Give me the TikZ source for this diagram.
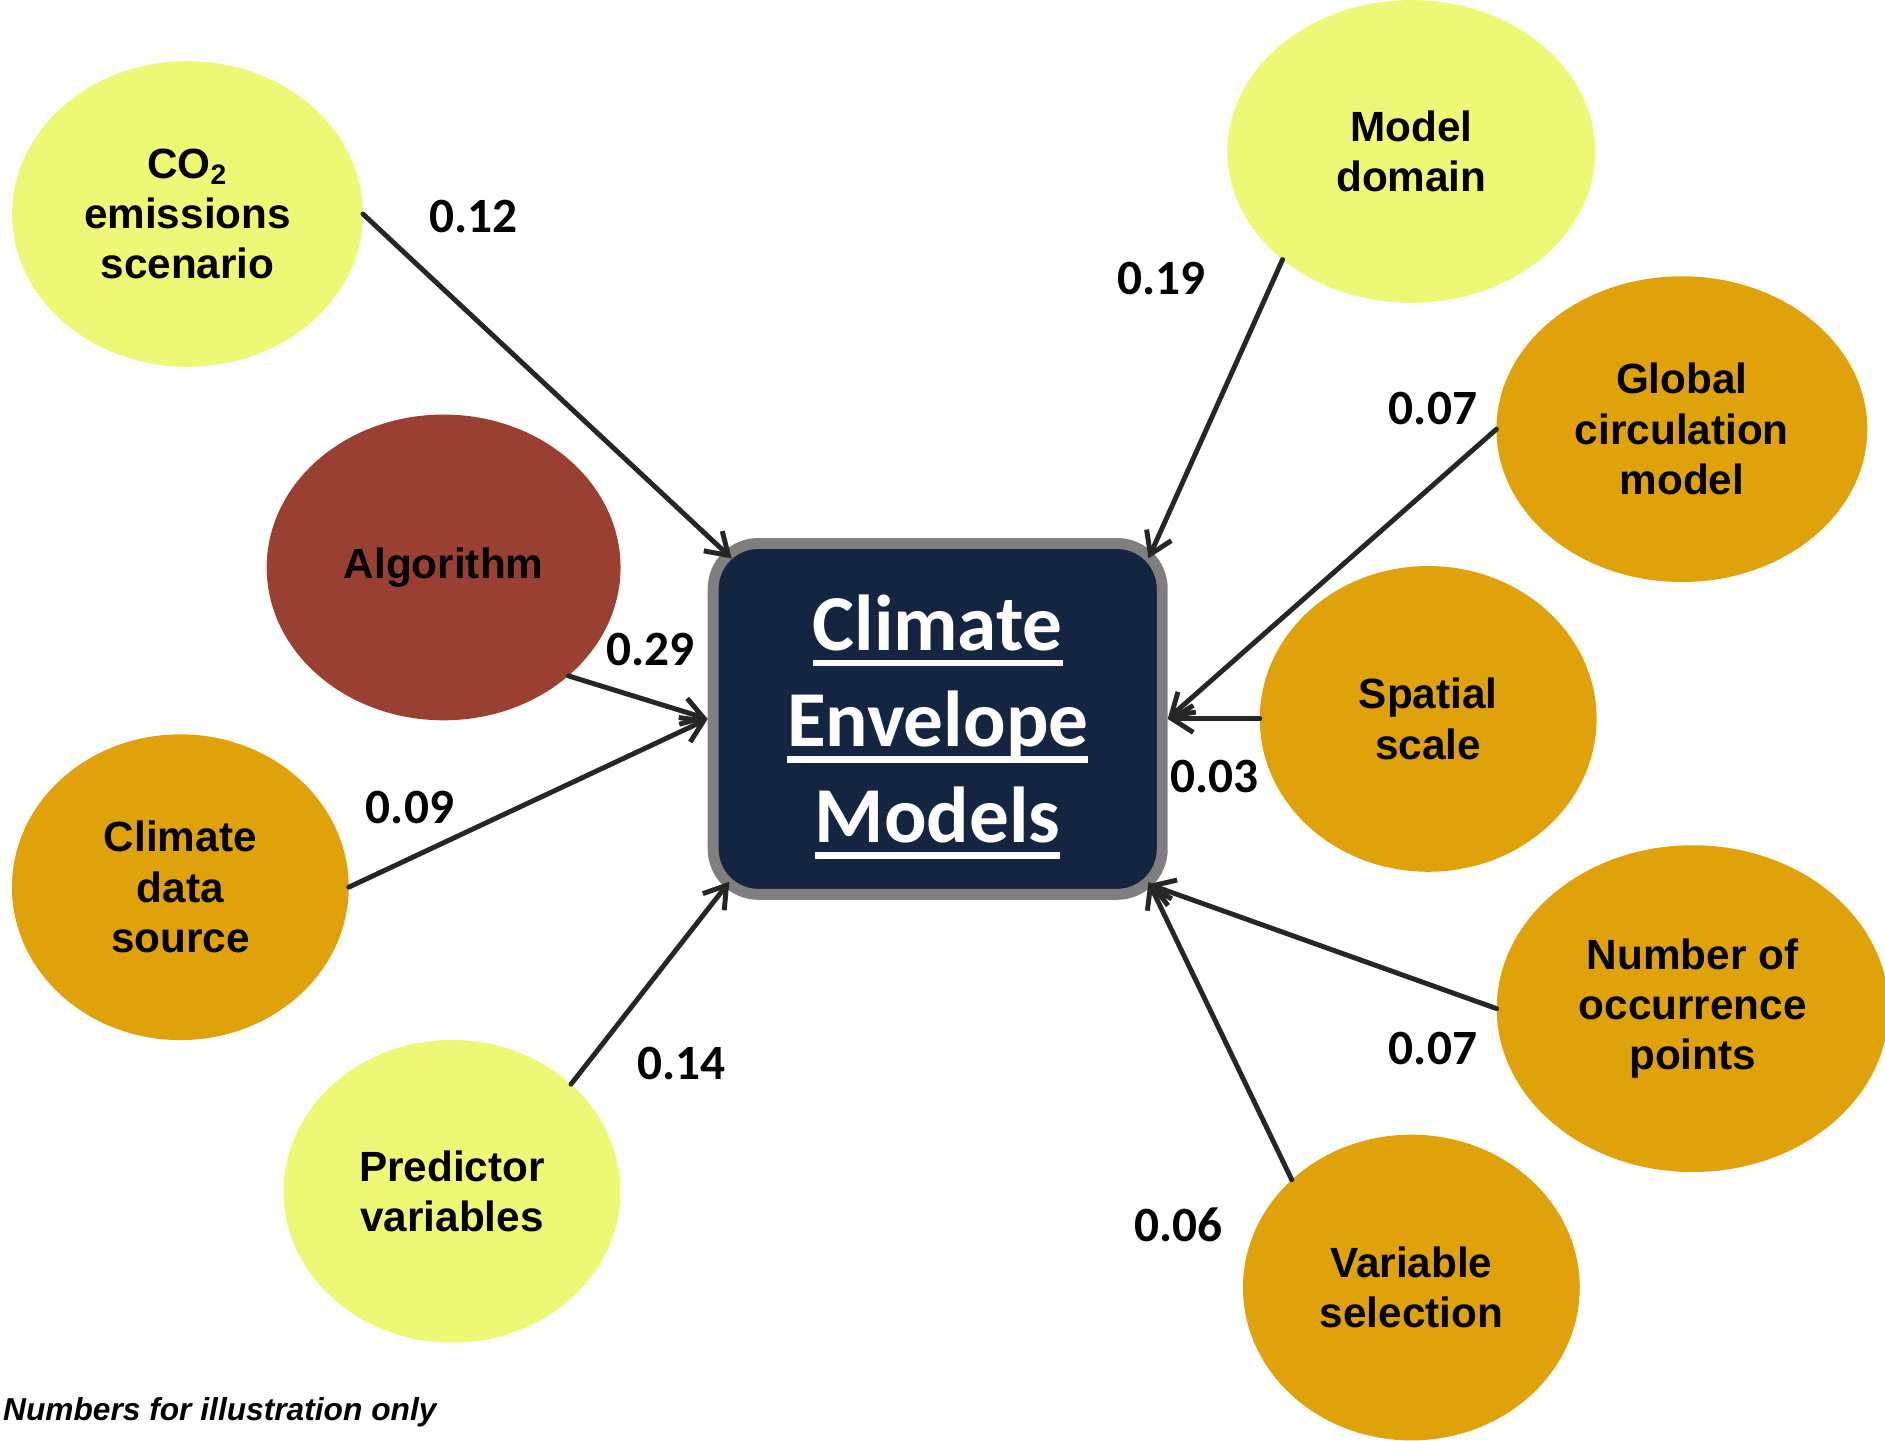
\documentclass[tikz,border=0pt]{standalone}
\usepackage{fontspec}
\setmainfont{Liberation Sans}
\newfontfamily\calibri{Carlito}
\usepackage{tikz}
\usetikzlibrary{shapes.geometric, arrows.meta}
\definecolor{paleyellow}{RGB}{238,248,118}
\definecolor{amber}{RGB}{224,162,11}
\definecolor{rust}{RGB}{153,64,51}
\definecolor{navy}{RGB}{19,37,64}
\definecolor{framegray}{RGB}{127,127,127}
\definecolor{arrowgray}{RGB}{38,38,38}
\tikzstyle{factor} = [ellipse, inner sep=0pt, outer sep=0pt, align=center, font=\bfseries\fontsize{12}{14.3}\selectfont]
\tikzstyle{light} = [factor, fill=paleyellow]
\tikzstyle{dark} = [factor, fill=amber]
\tikzstyle{core} = [rectangle, rounded corners=0.45cm, minimum width=4.48cm, minimum height=3.5cm, draw=framegray, line width=3.1pt, fill=navy, text=white, align=center, font=\calibri\bfseries\fontsize{22.5}{27.3}\selectfont]
\tikzstyle{weight} = [font=\calibri\bfseries\fontsize{14}{16}\selectfont]
\tikzstyle{arrow} = [line width=1.4pt, draw=arrowgray, line cap=round, -{Straight Barb[length=2.1mm,width=2.7mm]}]
\newsavebox\ulbox
\newcommand\ulword[1]{\sbox\ulbox{#1}\rlap{\smash{\rule[-4.6pt]{\wd\ulbox}{1.9pt}}}\usebox\ulbox}

\begin{document}
\begin{tikzpicture}[x=0.012cm, y=-0.012cm]
\useasboundingbox (0,0) rectangle (1568,1198);
% Nodes
\node (cem) [core] at (780,598) {\ulword{Climate}\\\ulword{Envelope}\\\ulword{Models}};
\node (co2) [light, minimum width=3.5cm, minimum height=3.05cm] at (156,178) {CO\textsubscript{2}\\emissions\\scenario};
\node (domain) [light, minimum width=3.67cm, minimum height=3.02cm] at (1174,126) {Model\\domain};
\node (gcm) [dark, minimum width=3.7cm, minimum height=3.05cm] at (1399,357) {Global\\circulation\\model};
\node (algo) [factor, fill=rust, minimum width=3.53cm, minimum height=3.05cm] at (369,472) {Algorithm};
\node (scale) [dark, minimum width=3.36cm, minimum height=3.05cm] at (1188,598) {Spatial\\scale};
\node (source) [dark, minimum width=3.36cm, minimum height=3.05cm] at (150,738) {Climate\\data\\source};
\node (points) [dark, minimum width=3.91cm, minimum height=3.26cm] at (1408,839) {Number of\\occurrence\\points};
\node (predict) [light, minimum width=3.36cm, minimum height=3.02cm] at (376,991) {Predictor\\variables};
\node (select) [dark, minimum width=3.36cm, minimum height=3.05cm] at (1174,1071) {Variable\\selection};

% Weights
\node (wco2) [weight] at (394,180) {0.12};
\node (wdomain) [weight] at (966,232) {0.19};
\node (wgcm) [weight] at (1192,340) {0.07};
\node (walgo) [weight] at (541,540) {0.29};
\node (wscale) [weight] at (1010,646) {0.03};
\node (wsource) [weight] at (341,672) {0.09};
\node (wpoints) [weight] at (1192,872) {0.07};
\node (wpredict) [weight] at (567,885) {0.14};
\node (wselect) [weight] at (980,1019) {0.06};

\node (note) [anchor=west, inner sep=0pt, font=\bfseries\itshape\fontsize{9}{11}\selectfont] at (2,1175) {Numbers for illustration only};

% Arrows
\draw [arrow] (co2.east) -- ([shift={(20,17)}]cem.north west);
\draw [arrow] (domain.220) -- ([shift={(-16,17)}]cem.north east);
\draw [arrow] (gcm.west) -- (cem.east);
\draw [arrow] (algo.-41) -- (cem.west);
\draw [arrow] (scale.west) -- (cem.east);
\draw [arrow] (source.east) -- (cem.west);
\draw [arrow] (points.west) -- ([shift={(-16,-13)}]cem.south east);
\draw [arrow] (predict.42) -- ([shift={(18,-15)}]cem.south west);
\draw [arrow] (select.138) -- ([shift={(-16,-15)}]cem.south east);
\end{tikzpicture}
\end{document}
